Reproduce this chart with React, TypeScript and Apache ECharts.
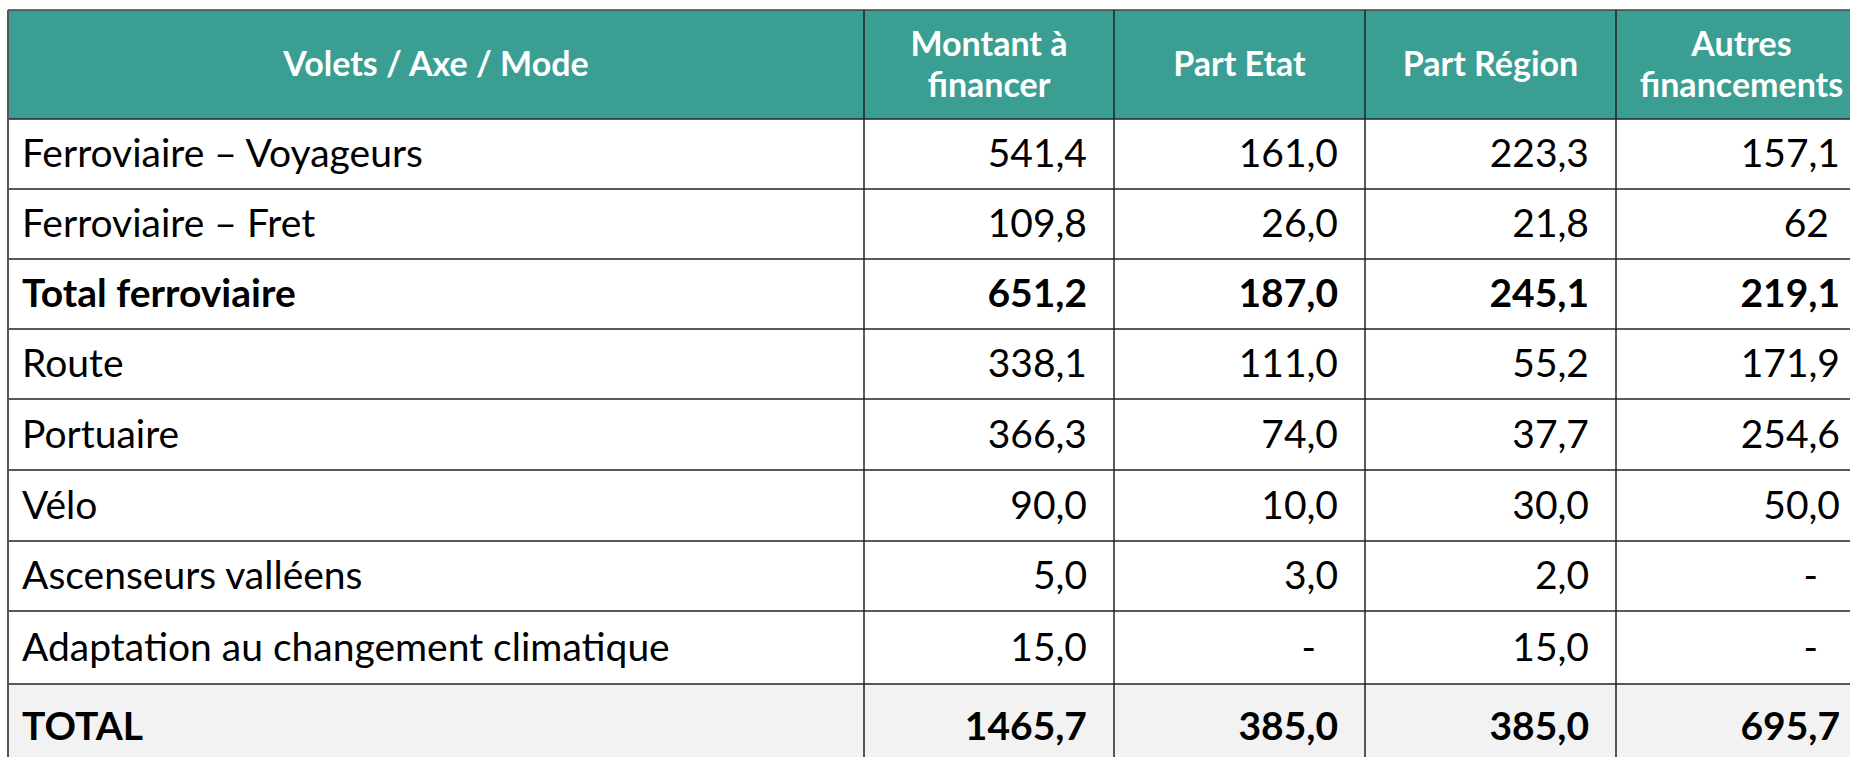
import React, { useEffect, useRef } from "react";
import * as echarts from "echarts";

const headers = ["Volets / Axe / Mode", "Montant à\nfinancer", "Part Etat", "Part Région", "Autres\nfinancements"];
const labels = [
  "Ferroviaire – Voyageurs",
  "Ferroviaire – Fret",
  "Total ferroviaire",
  "Route",
  "Portuaire",
  "Vélo",
  "Ascenseurs valléens",
  "Adaptation au changement climatique",
  "TOTAL",
];
const montant = ["541,4", "109,8", "651,2", "338,1", "366,3", "90,0", "5,0", "15,0", "1465,7"];
const partEtat = ["161,0", "26,0", "187,0", "111,0", "74,0", "10,0", "3,0", "-", "385,0"];
const partRegion = ["223,3", "21,8", "245,1", "55,2", "37,7", "30,0", "2,0", "15,0", "385,0"];
const autres = ["157,1", "62", "219,1", "171,9", "254,6", "50,0", "-", "-", "695,7"];
const boldRows = [false, false, true, false, false, false, false, false, true];

export default function App() {
  const ref = useRef<HTMLDivElement>(null);
  useEffect(() => {
    if (!ref.current) return;
    const chart = echarts.init(ref.current, null, { renderer: "svg" });
    const colX = [8, 864, 1114, 1365, 1616, 1867];
    const rowY = [10, 119, 189, 259, 329, 399, 470, 541, 611, 684, 770];
    const teal = "#3A9F92";
    const els: any[] = [];
    const valueCols = [montant, partEtat, partRegion, autres];

    // backgrounds
    els.push({ type: "rect", z: 1, shape: { x: colX[0], y: rowY[0], width: colX[5] - colX[0], height: rowY[1] - rowY[0] }, style: { fill: teal } });
    els.push({ type: "rect", z: 1, shape: { x: colX[0], y: rowY[9], width: colX[5] - colX[0], height: rowY[10] - rowY[9] }, style: { fill: "#F2F2F2" } });

    // horizontal lines
    for (let r = 0; r < rowY.length - 1; r++) {
      els.push({ type: "line", z: 2, shape: { x1: colX[0], y1: rowY[r], x2: colX[5], y2: rowY[r] }, style: { stroke: r === 0 ? "#444" : "#222", lineWidth: 1.5 } });
    }
    // vertical lines
    for (let c = 0; c < colX.length; c++) {
      els.push({ type: "line", z: 2, shape: { x1: colX[c], y1: rowY[0], x2: colX[c], y2: rowY[10] }, style: { stroke: c === 0 ? "#555" : "#222", lineWidth: c === 0 ? 2 : 1.5 } });
    }

    // header texts
    headers.forEach((h, c) => {
      els.push({
        type: "text", z: 3,
        style: {
          text: h, x: (colX[c] + colX[c + 1]) / 2, y: (rowY[0] + rowY[1]) / 2 - 2,
          fill: "#FFFFFF", font: "bold 34px Lato", lineHeight: 41,
          align: "center", verticalAlign: "middle", textAlign: "center", textVerticalAlign: "middle",
        },
      });
    });

    // body
    labels.forEach((lab, r) => {
      const top = rowY[r + 1];
      const bottom = rowY[r + 2];
      const cy = top + (bottom - top) / 2 - 2;
      const weight = boldRows[r] ? "bold " : "";
      els.push({
        type: "text", z: 3,
        style: {
          text: lab, x: 22, y: cy, fill: "#000", font: weight + "39px Lato",
          align: "left", verticalAlign: "middle", textAlign: "left", textVerticalAlign: "middle",
        },
      });
      valueCols.forEach((arr, c) => {
        const v = arr[r];
        const right = colX[c + 2] - 27;
        let x = right;
        if (v === "-") x = right - 22;
        else if (v.indexOf(",") < 0) x = right - 11;
        els.push({
          type: "text", z: 3,
          style: {
            text: v, x, y: cy, fill: "#000", font: weight + "39px Lato",
            align: "right", verticalAlign: "middle", textAlign: "right", textVerticalAlign: "middle",
          },
        });
      });
    });

    chart.setOption({ animation: false, graphic: { elements: els } });
    return () => chart.dispose();
  }, []);
  return <div ref={ref} style={{ position: "absolute", left: 0, top: 0, width: 1850, height: 757, background: "#fff" }} />;
}
